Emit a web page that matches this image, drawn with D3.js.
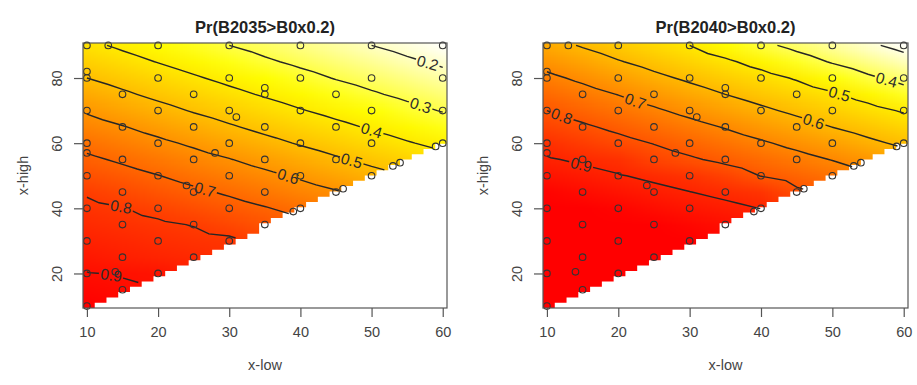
<!DOCTYPE html>
<html><head><meta charset="utf-8">
<script src="https://cdn.jsdelivr.net/npm/d3@7"></script>
<style>
body{margin:0;background:#fff;}
text{font-family:"Liberation Sans", Arial, Helvetica, sans-serif;}
</style>
</head><body>
<svg id="chart" width="917" height="385"></svg>
<script>
// ---------------- data ----------------
const xGrid = [10,15,20,25,30,35,40,45,50,55,60];            // x-low
const yGrid = [10,15,20,25,30,35,40,45,50,55,60,65,70,75,80,85,90]; // x-high
// one row per x-low value, entries for x-high = 10..90 (null = not evaluated, x-high < x-low)
const pr2035 = [
 [0.935,0.918,0.902,0.881,0.860,0.838,0.817,0.792,0.754,0.715,0.675,0.633,0.591,0.545,0.500,0.458,0.417],
 [null,0.908,0.897,0.865,0.846,0.825,0.803,0.767,0.728,0.688,0.646,0.604,0.558,0.513,0.470,0.427,0.387],
 [null,null,0.890,0.852,0.832,0.811,0.780,0.741,0.702,0.660,0.617,0.572,0.526,0.481,0.439,0.397,0.358],
 [null,null,null,0.841,0.821,0.797,0.755,0.715,0.674,0.631,0.587,0.540,0.494,0.451,0.409,0.368,0.329],
 [null,null,null,null,0.812,0.772,0.730,0.689,0.646,0.603,0.555,0.509,0.465,0.421,0.380,0.340,0.300],
 [null,null,null,null,null,0.745,0.705,0.661,0.618,0.572,0.524,0.478,0.435,0.392,0.352,0.311,0.275],
 [null,null,null,null,null,null,0.678,0.633,0.589,0.541,0.493,0.449,0.405,0.364,0.324,0.285,0.250],
 [null,null,null,null,null,null,null,0.606,0.558,0.510,0.464,0.420,0.377,0.336,0.296,0.260,0.225],
 [null,null,null,null,null,null,null,null,0.527,0.480,0.435,0.391,0.350,0.309,0.272,0.236,0.200],
 [null,null,null,null,null,null,null,null,null,0.452,0.406,0.364,0.322,0.283,0.247,0.211,0.178],
 [null,null,null,null,null,null,null,null,null,null,0.379,0.337,0.296,0.259,0.223,0.188,0.155]
];
const pr2040 = [
 [0.975,0.975,0.975,0.975,0.975,0.975,0.975,0.966,0.936,0.906,0.876,0.838,0.800,0.758,0.717,0.673,0.627],
 [null,0.975,0.975,0.975,0.975,0.975,0.975,0.950,0.920,0.890,0.850,0.811,0.770,0.728,0.685,0.639,0.594],
 [null,null,0.975,0.975,0.975,0.975,0.964,0.934,0.904,0.874,0.824,0.783,0.741,0.698,0.652,0.605,0.563],
 [null,null,null,0.975,0.975,0.975,0.947,0.917,0.887,0.836,0.797,0.754,0.711,0.665,0.618,0.574,0.531],
 [null,null,null,null,0.975,0.961,0.931,0.901,0.871,0.810,0.768,0.725,0.679,0.632,0.587,0.543,0.500],
 [null,null,null,null,null,0.945,0.915,0.885,0.840,0.783,0.739,0.695,0.647,0.600,0.556,0.512,0.458],
 [null,null,null,null,null,null,0.899,0.869,0.798,0.754,0.710,0.663,0.615,0.569,0.526,0.475,0.417],
 [null,null,null,null,null,null,null,0.813,0.770,0.726,0.679,0.631,0.584,0.539,0.493,0.434,0.380],
 [null,null,null,null,null,null,null,null,0.742,0.697,0.648,0.599,0.554,0.509,0.453,0.394,0.345],
 [null,null,null,null,null,null,null,null,null,0.666,0.616,0.570,0.524,0.472,0.412,0.360,0.311],
 [null,null,null,null,null,null,null,null,null,null,0.586,0.540,0.493,0.432,0.377,0.327,0.280]
];
const levels2035 = [0.2,0.3,0.4,0.5,0.6,0.7,0.8,0.9];
const levels2040 = [0.3,0.4,0.5,0.6,0.7,0.8,0.9];
// design points (x-low, x-high)
const designX = [10,13,20,30,40,50,60, 10,10,20,30,40,50,60, 15,25,35,35,45, 10,20,30,31,40,50,60,
  15,25,35,45, 10,20,30,40,50,60,59, 10,28, 15,25,35,45,53,54, 10,20,30,40,50,
  15,25,24,35,45,46, 10,20,30,39,40, 15,25,35, 10,20,30, 15,25, 10,14,20, 15, 10];
const designY = [90,90,90,90,90,90,90, 82,80,80,80,80,80,80, 75,75,75,77,75, 70,70,70,68,70,70,70,
  65,65,65,65, 60,60,60,60,60,60,59, 57,57, 55,55,55,55,53,54, 50,50,50,50,50,
  45,45,47,45,45,46, 40,40,40,39,40, 35,35,35, 30,30,30, 25,25, 20,20.5,20, 15, 10];
const xTicks = [10,20,30,40,50,60];
const yTicks = [20,40,60,80];
const titles = ["Pr(B2035>B0x0.2)", "Pr(B2040>B0x0.2)"];
const xLabel = "x-low", yLabel = "x-high";

// ---------------- layout ----------------
const labelAt = [
  [57.9,56.9,50.0,47.2,38.3,26.6,14.8,13.4],
  [null,57.6,51.0,47.4,22.4,12.1,14.8]
];
const panels = [
  {left:83, right:447, grid:pr2035, levels:levels2035, labels:labelAt[0], title:titles[0]},
  {left:543, right:908, grid:pr2040, levels:levels2040, labels:labelAt[1], title:titles[1]}
];
const plotTop = 43, plotBottom = 308;
const xDom = [9.45, 60.6], yDom = [9.4, 90.75];

const svg = d3.select("#chart");
const defs = svg.append("defs");

function hsv2rgb(h,s,v){
  const i=Math.floor(h*6), f=h*6-i, p=v*(1-s), q=v*(1-f*s), t=v*(1-(1-f)*s);
  let r,g,b;
  switch(((i%6)+6)%6){case 0:r=v;g=t;b=p;break;case 1:r=q;g=v;b=p;break;case 2:r=p;g=v;b=t;break;
    case 3:r=p;g=q;b=v;break;case 4:r=t;g=p;b=v;break;default:r=v;g=p;b=q;}
  return [r*255,g*255,b*255];
}
function heat(s){ // R heat.colors, s=0 red ... s=1 near white
  s=Math.max(0,Math.min(1,s));
  if(s<=0.75) return hsv2rgb(s/0.75/6,1,1);
  const sat = 0.98 - (s-0.75)/0.25*0.96;
  return hsv2rgb(1/6,sat,1);
}

function isoSegments(grid, level){
  const segs=[];
  for(let i=0;i<xGrid.length-1;i++) for(let j=0;j<yGrid.length-1;j++){
    const A=[xGrid[i],yGrid[j],grid[i][j]], B=[xGrid[i+1],yGrid[j],grid[i+1][j]],
          C=[xGrid[i],yGrid[j+1],grid[i][j+1]], D=[xGrid[i+1],yGrid[j+1],grid[i+1][j+1]];
    for(const tri of [[A,C,D],[A,B,D]]){
      if(tri.some(p=>p[2]==null)) continue;
      const pts=[];
      for(let k=0;k<3;k++){
        const p=tri[k], q=tri[(k+1)%3];
        if((p[2]>=level)!==(q[2]>=level)){
          const t=(level-p[2])/(q[2]-p[2]);
          pts.push([p[0]+t*(q[0]-p[0]), p[1]+t*(q[1]-p[1])]);
        }
      }
      if(pts.length===2) segs.push(pts);
    }
  }
  return segs;
}
function joinSegments(segs){
  const key=p=>p[0].toFixed(4)+","+p[1].toFixed(4);
  const map=new Map();
  segs.forEach((s,idx)=>{for(const e of [0,1]){const k=key(s[e]); if(!map.has(k)) map.set(k,[]); map.get(k).push(idx);}});
  const used=new Array(segs.length).fill(false), lines=[];
  for(let s=0;s<segs.length;s++){
    if(used[s]) continue; used[s]=true;
    const line=[segs[s][0],segs[s][1]];
    for(const dir of [1,-1]){
      while(true){
        const end = dir===1? line[line.length-1] : line[0];
        const cand=(map.get(key(end))||[]).find(i=>!used[i]);
        if(cand===undefined) break;
        used[cand]=true;
        const sg=segs[cand]; const other = key(sg[0])===key(end)? sg[1] : sg[0];
        if(dir===1) line.push(other); else line.unshift(other);
      }
    }
    lines.push(line);
  }
  return lines;
}

panels.forEach((P,pi)=>{
  const x=d3.scaleLinear().domain(xDom).range([P.left,P.right]);
  const y=d3.scaleLinear().domain(yDom).range([plotBottom,plotTop]);
  const g=svg.append("g");
  const [zmin,zmax]=d3.extent(P.grid.flat().filter(v=>v!=null));
  const sOf=z=>1-(z-zmin)/(zmax-zmin);

  // raster image from grid (browser-smoothed)
  const nx=xGrid.length, ny=yGrid.length;
  const cv=document.createElement("canvas"); cv.width=nx; cv.height=ny;
  const ctx=cv.getContext("2d"); const img=ctx.createImageData(nx,ny);
  for(let i=0;i<nx;i++) for(let j=0;j<ny;j++){
    let z=P.grid[i][j];
    if(z==null){ z=(P.grid[i][i]+P.grid[j][j])/2; }
    const c=heat(sOf(z)); const o=((ny-1-j)*nx+i)*4;
    img.data[o]=c[0]; img.data[o+1]=c[1]; img.data[o+2]=c[2]; img.data[o+3]=255;
  }
  ctx.putImageData(img,0,0);

  // staircase clip (region x-high >= x-low)
  const nCols=31, nRows=50, cw=(xDom[1]-xDom[0])/nCols, rh=(yDom[1]-yDom[0])/nRows;
  const poly=[[xDom[0],yDom[1]]];
  for(let c=0;c<nCols;c++){
    const x0=xDom[0]+c*cw, x1=x0+cw, xc=x0+cw/2;
    let r=0; while(r<nRows && yDom[0]+(r+0.5)*rh < xc-0.4) r++;
    const yb=yDom[0]+r*rh;
    poly.push([x0,yb],[x1,yb]);
  }
  poly.push([xDom[1],yDom[1]]);
  defs.append("clipPath").attr("id","clip"+pi).append("path")
    .attr("d","M"+poly.map(p=>x(p[0])+","+y(p[1])).join("L")+"Z");
  g.append("image").attr("href",cv.toDataURL())
    .attr("x",x(7.5)).attr("y",y(92.5))
    .attr("width",x(62.5)-x(7.5)).attr("height",y(7.5)-y(92.5))
    .attr("preserveAspectRatio","none").attr("clip-path","url(#clip"+pi+")");

  // contours
  const mask=defs.append("mask").attr("id","mask"+pi).attr("maskUnits","userSpaceOnUse")
    .attr("x",0).attr("y",0).attr("width",917).attr("height",385);
  mask.append("rect").attr("x",0).attr("y",0).attr("width",917).attr("height",385).attr("fill","#fff");
  const cg=g.append("g").attr("mask","url(#mask"+pi+")");
  const lg=g.append("g");
  const lineGen=d3.line().x(d=>x(d[0])).y(d=>y(d[1]));
  P.levels.forEach((lv,li)=>{
    const lines=joinSegments(isoSegments(P.grid,lv));
    lines.forEach(l=>cg.append("path").attr("d",lineGen(l)).attr("fill","none")
      .attr("stroke","#262626").attr("stroke-width",1.4));
    const lx=P.labels[li];
    if(lx==null||!lines.length) return;
    const line=lines.reduce((a,b)=>a.length>=b.length?a:b);
    for(let k=0;k<line.length-1;k++){
      const a=line[k], b=line[k+1];
      if((a[0]-lx)*(b[0]-lx)<=0 && a[0]!==b[0]){
        const t=(lx-a[0])/(b[0]-a[0]);
        const px=x(a[0]+t*(b[0]-a[0])), py=y(a[1]+t*(b[1]-a[1]));
        let ang=Math.atan2(y(b[1])-y(a[1]), x(b[0])-x(a[0]))*180/Math.PI;
        if(ang>90) ang-=180; if(ang<-90) ang+=180;
        const txt=lg.append("text").attr("transform",`translate(${px},${py}) rotate(${ang})`)
          .attr("text-anchor","middle").attr("dy","0.36em").attr("font-size","15.5px")
          .attr("fill","#2d2d2d").text(String(lv));
        const w=txt.node().getComputedTextLength()+3;
        mask.append("rect").attr("x",-w/2).attr("y",-6).attr("width",w).attr("height",12)
          .attr("fill","#000").attr("transform",`translate(${px},${py}) rotate(${ang})`);
        break;
      }
    }
  });

  // design points
  g.append("g").selectAll("circle").data(designX.map((d,i)=>[d,designY[i]])).join("circle")
    .attr("cx",d=>x(d[0])).attr("cy",d=>y(d[1])).attr("r",3.3)
    .attr("fill","none").attr("stroke","#333").attr("stroke-width",1.1);

  // box
  g.append("rect").attr("x",P.left).attr("y",plotTop).attr("width",P.right-P.left).attr("height",plotBottom-plotTop)
    .attr("fill","none").attr("stroke","#555").attr("stroke-width",1.2);

  // axes
  const ax=g.append("g").attr("transform",`translate(0,${plotBottom})`)
    .call(d3.axisBottom(x).tickValues(xTicks).tickSize(9).tickPadding(10).tickFormat(d3.format("d")));
  ax.select(".domain").remove();
  ax.selectAll("line").attr("stroke","#555").attr("stroke-width",1.2);
  ax.selectAll("text").attr("font-size","14.5px").attr("fill","#444").attr("font-family",null);
  const ay=g.append("g").attr("transform",`translate(${P.left},0)`)
    .call(d3.axisLeft(y).tickValues(yTicks).tickSize(9).tickFormat(d3.format("d")));
  ay.select(".domain").remove();
  ay.selectAll("line").attr("stroke","#555").attr("stroke-width",1.2);
  ay.selectAll("text").attr("x",null).attr("dy",null).attr("text-anchor","middle")
    .attr("transform","translate(-21,0) rotate(-90)").attr("font-size","14.5px").attr("fill","#444").attr("font-family",null);

  const cx=(P.left+P.right)/2;
  g.append("text").attr("x",cx).attr("y",33).attr("text-anchor","middle")
    .attr("font-size","16.5px").attr("font-weight","bold").attr("fill","#222").text(P.title);
  g.append("text").attr("x",cx).attr("y",370).attr("text-anchor","middle")
    .attr("font-size","14.5px").attr("fill","#444").text(xLabel);
  g.append("text").attr("transform",`translate(${P.left-55},${(plotTop+plotBottom)/2}) rotate(-90)`)
    .attr("text-anchor","middle").attr("font-size","14.5px").attr("fill","#444").text(yLabel);
});
</script>
</body></html>
